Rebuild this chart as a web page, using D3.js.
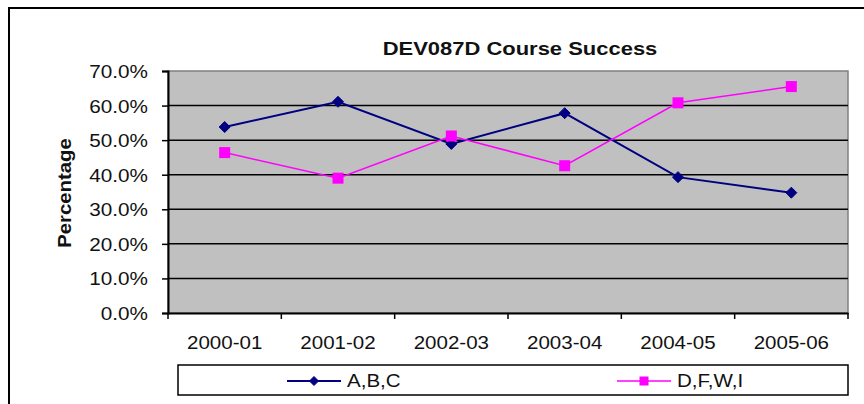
<!DOCTYPE html>
<html>
<head>
<meta charset="utf-8">
<script src="https://cdn.jsdelivr.net/npm/d3@7"></script>
<style>
  html, body { margin: 0; padding: 0; background: #fff; }
  svg { display: block; }
  text { font-family: "Liberation Sans", Arial, sans-serif; fill: #111; }
</style>
</head>
<body>
<svg id="chart" width="864" height="404"></svg>
<script>
const categories = ["2000-01", "2001-02", "2002-03", "2003-04", "2004-05", "2005-06"];
const seriesNames = ["A,B,C", "D,F,W,I"];
const abcValues = [53.8, 61.1, 48.9, 57.8, 39.3, 34.8];
const dfwiValues = [46.4, 39.0, 51.2, 42.6, 60.8, 65.5];
const yTicks = [0, 10, 20, 30, 40, 50, 60, 70];
const titleText = "DEV087D Course Success";
const yTitle = "Percentage";

const W = 864, H = 404;
const plot = { left: 168, right: 848, top: 71, bottom: 313 };
const svg = d3.select("#chart");

function stretch(sel, k) {
  sel.each(function () {
    const l = this.getComputedTextLength();
    d3.select(this).attr("textLength", l * k).attr("lengthAdjust", "spacingAndGlyphs");
  });
}

// outer frame
svg.append("rect").attr("x", 9).attr("y", 8).attr("width", 900).attr("height", 420)
  .attr("fill", "#fff").attr("stroke", "#000").attr("stroke-width", 2);

const x = d3.scaleBand().domain(categories).range([plot.left, plot.right]).padding(0);
const y = d3.scaleLinear().domain([0, 70]).range([plot.bottom, plot.top]);

// plot background
svg.append("rect").attr("x", plot.left).attr("y", plot.top)
  .attr("width", plot.right - plot.left).attr("height", plot.bottom - plot.top)
  .attr("fill", "#c0c0c0").attr("stroke", "#808080").attr("stroke-width", 1.5);

// gridlines
svg.append("g").selectAll("line").data(yTicks.filter(d => d > 0 && d < 70)).join("line")
  .attr("x1", plot.left).attr("x2", plot.right)
  .attr("y1", d => y(d)).attr("y2", d => y(d))
  .attr("stroke", "#000").attr("stroke-width", 1.5);

// y axis
const yAxis = svg.append("g").attr("transform", `translate(${plot.left},0)`)
  .call(d3.axisLeft(y).tickValues(yTicks).tickSize(6).tickPadding(14)
    .tickFormat(d => d3.format(".1f")(d) + "%"));
yAxis.select(".domain").attr("stroke", "#000").attr("stroke-width", 2);
yAxis.selectAll(".tick line").attr("stroke", "#000").attr("stroke-width", 1.5);
yAxis.selectAll(".tick text").attr("font-size", 18).attr("fill", "#111")
  .attr("font-family", "Liberation Sans, Arial, sans-serif").attr("dy", "0.36em");
stretch(yAxis.selectAll(".tick text"), 1.15);

// x axis
const xAxis = svg.append("g").attr("transform", `translate(0,${plot.bottom})`)
  .call(d3.axisBottom(x).tickSize(0).tickPadding(23));
xAxis.select(".domain").attr("stroke", "#000").attr("stroke-width", 2);
xAxis.selectAll(".tick text").attr("font-size", 18).attr("fill", "#111")
  .attr("font-family", "Liberation Sans, Arial, sans-serif");
stretch(xAxis.selectAll(".tick text"), 1.14);
const bounds = categories.map(c => x(c)).concat([x(categories[categories.length - 1]) + x.bandwidth()]);
svg.append("g").selectAll("line").data(bounds).join("line")
  .attr("x1", d => d).attr("x2", d => d)
  .attr("y1", plot.bottom).attr("y2", plot.bottom + 6)
  .attr("stroke", "#000").attr("stroke-width", 1.5);

// title
const t = svg.append("text").attr("x", 520).attr("y", 55).attr("text-anchor", "middle")
  .attr("font-size", 18).attr("font-weight", "bold").text(titleText);
stretch(t, 1.22);

// y title
const yt = svg.append("text").attr("transform", `translate(71,193) rotate(-90)`)
  .attr("text-anchor", "middle").attr("font-size", 18).attr("font-weight", "bold").text(yTitle);
stretch(yt, 1.13);

const cx = c => x(c) + x.bandwidth() / 2;
const series = [
  { name: seriesNames[0], values: abcValues, color: "#000080", width: 2, marker: "diamond" },
  { name: seriesNames[1], values: dfwiValues, color: "#ff00ff", width: 1.5, marker: "square" }
];
const line = d3.line().x((d, i) => cx(categories[i])).y(d => y(d));

function drawMarker(g, type, px, py, size, color) {
  if (type === "diamond") {
    const s = size / 2;
    g.append("path").attr("d", `M${px},${py - s}L${px + s},${py}L${px},${py + s}L${px - s},${py}Z`)
      .attr("fill", color).attr("stroke", color).attr("stroke-width", 1);
  } else {
    g.append("rect").attr("x", px - size / 2).attr("y", py - size / 2)
      .attr("width", size).attr("height", size).attr("fill", color);
  }
}

series.forEach(s => {
  const g = svg.append("g");
  g.append("path").attr("d", line(s.values)).attr("fill", "none")
    .attr("stroke", s.color).attr("stroke-width", s.width);
  s.values.forEach((v, i) => drawMarker(g, s.marker, cx(categories[i]), y(v), s.marker === "diamond" ? 11 : 11, s.color));
});

// legend
const leg = { x: 178, y: 365, w: 670, h: 30 };
svg.append("rect").attr("x", leg.x).attr("y", leg.y).attr("width", leg.w).attr("height", leg.h)
  .attr("fill", "#fff").attr("stroke", "#000").attr("stroke-width", 1.5);
const legItems = [
  { s: series[0], x0: 287 },
  { s: series[1], x0: 617 }
];
legItems.forEach(it => {
  const g = svg.append("g");
  const ly = leg.y + leg.h / 2 + 1;
  g.append("line").attr("x1", it.x0).attr("x2", it.x0 + 54).attr("y1", ly).attr("y2", ly)
    .attr("stroke", it.s.color).attr("stroke-width", it.s.width);
  drawMarker(g, it.s.marker, it.x0 + 27, ly, it.s.marker === "diamond" ? 9 : 9, it.s.color);
  const tx = g.append("text").attr("x", it.x0 + 60).attr("y", ly).attr("dy", "0.36em")
    .attr("font-size", 18).text(it.s.name);
  stretch(tx, 1.14);
});
</script>
</body>
</html>
